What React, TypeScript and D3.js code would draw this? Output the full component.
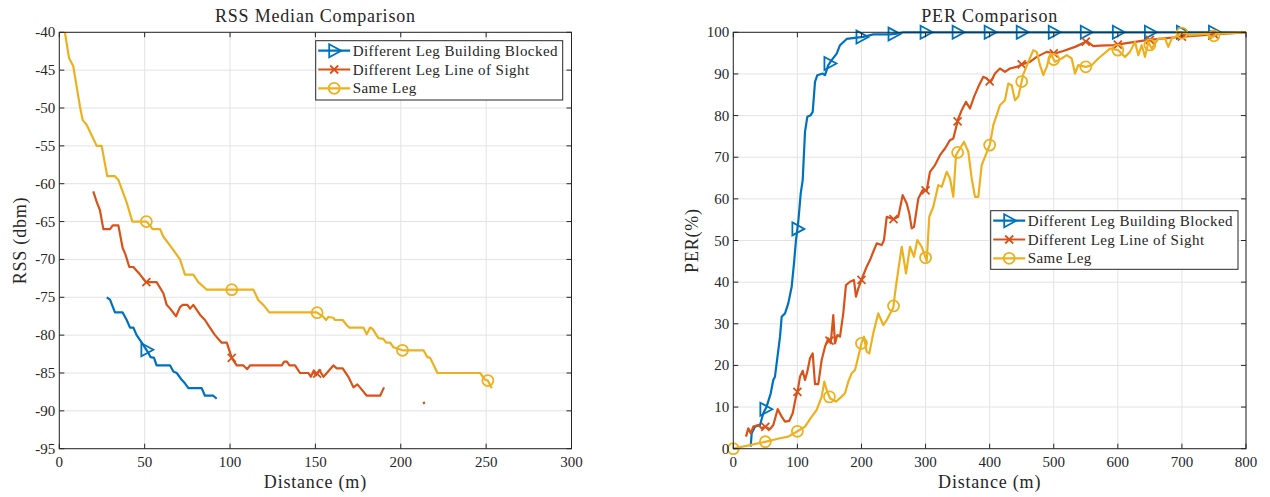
import React from "react";
import * as d3 from "d3";

// MATLAB default colour order
const BLUE = "#0072BD";
const RED = "#D95319";
const YELLOW = "#EDB120";

const seriesNames = [
  "Different Leg Building Blocked",
  "Different Leg Line of Sight",
  "Same Leg",
];

type Pt = [number, number] | null;

// ---- RSS median (left panel): [distance m, rss dbm]
const rssBlocked: Pt[] = [
  [27.8, -75], [29.7, -75.3], [32.6, -77], [37.1, -77], [39.5, -78], [41.4, -79], [43.4, -79],
  [45.3, -80], [48.3, -81], [51.2, -82], [53.5, -82.9], [55.5, -83], [57, -84], [64.9, -84],
  [66.8, -84.8], [68.8, -85], [71.7, -85.9], [73.7, -86.4], [75.6, -87], [83.4, -87], [85.3, -88],
  [90.2, -88], [92.2, -88.4],
];

const rssLos: Pt[] = [
  [19.9, -61], [21.9, -62.4], [23.8, -63.5], [25.8, -66], [29.7, -66], [31.3, -65.5], [34.6, -65.5],
  [37.1, -68.5], [38.5, -69.2], [39.5, -69.9], [41, -71], [43.4, -71], [45.3, -71.5], [47.3, -72],
  [50.8, -73], [57, -73], [61, -74.5], [62.9, -76], [64.9, -76.5], [68.4, -77.5], [70.7, -76.3],
  [72.3, -76], [75, -76], [76.6, -76.5], [78.5, -76], [82.4, -77.3], [85.3, -78], [88.2, -79],
  [91.2, -80], [95.1, -81], [98.1, -81], [101, -83], [103.9, -84], [107.8, -84], [110.1, -84.5],
  [111.7, -84], [130.3, -84], [131.7, -83.5], [133.3, -83.5], [134.8, -84], [138.1, -84], [141, -85],
  [145.9, -85], [147.3, -85.5], [148.8, -84.8], [150.4, -85.3], [152.3, -84.6], [154.7, -85.5],
  [156.7, -85], [160.5, -84], [162.5, -84.4], [166, -84.4], [169.3, -85.5], [172.3, -86.9],
  [174.6, -86.5], [177.2, -87.2], [180.1, -88], [187.9, -88], [190.2, -86.9],
  null,
  [213.3, -88.8], [213.9, -89.1],
];

const rssSame: Pt[] = [
  [3.3, -40], [5.7, -43.4], [8.2, -44.5], [12.1, -49.8], [13.7, -51.6], [16, -52.2], [21.9, -55],
  [24.8, -55], [28.1, -59], [32.6, -59], [34.6, -59.5], [39.5, -62.5], [42.8, -65], [47.3, -65],
  [51.2, -65], [54.7, -66], [59, -66], [61, -67], [66, -68.5], [70.7, -70], [73.6, -72], [78.5, -72],
  [81.4, -73], [86.4, -74], [101.4, -74], [113.7, -74], [116.6, -75.4], [119.5, -76], [123, -77],
  [150.8, -77], [154.7, -77.6], [156.3, -78], [157.6, -77.6], [160.5, -77.7], [161.5, -78],
  [166, -78], [168.4, -78.7], [169.9, -79], [178.1, -79], [180.1, -79.9], [182, -79], [183.6, -79.2],
  [186.9, -80.4], [189.8, -80.5], [191.4, -81], [193.8, -81], [195.7, -81.6], [201, -82],
  [213.3, -82], [215.6, -82.9], [217.2, -83], [221.5, -85], [246.5, -85], [249.4, -85.9],
  [251, -86], [253.3, -87],
];

// ---- PER (right panel): [distance m, per %]
const perBlocked: Pt[] = [
  [27.1, 0.5], [28.7, 3.7], [33.9, 5.3], [41.7, 5.7], [46.8, 8.5], [52, 10.1], [58.4, 13.3],
  [62.4, 16.5], [65, 17.3], [72.9, 26.9], [75.5, 31.7], [80.7, 32.5], [85.8, 34.9], [91.1, 38.9],
  [94.7, 44.5], [97.8, 50.1], [101.4, 54.5], [105.2, 61.3], [108.3, 64.5], [111.9, 76.1],
  [115.5, 79.7], [120.8, 80.1], [123.9, 80.9], [127.5, 88.1], [131.1, 89.7], [139.5, 90.1],
  [143.1, 89.7], [148.2, 92.1], [153.5, 93.3], [161.3, 94.9], [166.5, 96.9], [176.9, 98.4],
  [192.5, 98.7], [202.8, 98.9], [218.4, 99.5], [244.5, 99.5], [252.3, 99.6], [265.3, 100],
  [800, 100],
];

const perLos: Pt[] = [
  [19.8, 2.9], [23.4, 4.9], [27.1, 3.7], [31.2, 5.3], [39, 5.7], [44.3, 4.9], [49.5, 5.3],
  [57.3, 4.7], [62.4, 5.7], [69.3, 9.5], [75.5, 7.7], [80.7, 6.5], [87.4, 6.7], [92.7, 8.5],
  [97.8, 12.5], [100.5, 13.9], [104.1, 17.3], [108.3, 18.7], [111.9, 16.5], [115.5, 18.5],
  [119.7, 21.7], [123.9, 22.9], [127.5, 15.5], [132.6, 15.5], [137.9, 21.3], [143.1, 24.5],
  [148.2, 26.5], [152, 25.3], [156, 32.1], [158.7, 25.3], [162.3, 27.3], [166.5, 26.9],
  [171.6, 32.5], [175.8, 39.3], [182.1, 40.1], [188.3, 40.5], [191.4, 36.5], [195.1, 38.5],
  [201.9, 41.3], [208.1, 43.7], [213.3, 45.3], [218.4, 47.3], [223.8, 49.3], [231.6, 48.9],
  [235.1, 50.1], [239.4, 55.7], [249.7, 55.1], [257.4, 55.7], [264.3, 60.9], [270.6, 58.9],
  [274.6, 56.5], [278.4, 52.9], [282, 53.3], [288.7, 60.1], [295.5, 62.1], [301.8, 62],
  [306.9, 66.5], [314.7, 68.1], [322.5, 70.5], [330.3, 72.1], [338.1, 74.1], [343.3, 74.5],
  [351.1, 79.3], [356.4, 81.3], [363.1, 83.3], [369.3, 81.7], [375.6, 84.5], [382.3, 86.9],
  [390.1, 89.3], [395.4, 88.9], [401.6, 88], [408.3, 90.1], [416.1, 91.3], [423.9, 90.5],
  [431.7, 91.3], [442.2, 91.7], [450, 92.3], [462.9, 92.9], [473.4, 94.1], [489, 95.3],
  [501.9, 94.9], [514.9, 95.5], [533.2, 96.5], [546.1, 97.4], [551.4, 97.9], [561.7, 96.7],
  [572.2, 96.8], [593, 96.9], [645, 98.1], [697, 98.9], [749, 99.5], [800, 100],
];

const perSame: Pt[] = [
  [0, 0], [51, 1.7], [72.9, 2.5], [85.8, 2.9], [101.4, 4.3], [111.9, 5.3], [122.3, 7.7],
  [130.1, 9.3], [137.9, 12.5], [142, 16.1], [145.7, 14.1], [150.9, 12.1], [160.2, 11.3],
  [169.1, 12.5], [174.3, 13.3], [179.4, 16.1], [184.7, 18.1], [189.9, 18.9], [195, 22.1],
  [200.3, 25.5], [203.9, 26.9], [208.1, 23.3], [212.2, 22.9], [218.4, 27.7], [226.2, 32.5],
  [234, 29.7], [239.4, 30.9], [249.7, 33.9], [252.3, 37.3], [257.4, 42.9], [262.8, 48.5],
  [269.5, 42.1], [275.7, 48.5], [282, 46.1], [287.1, 50.1], [294, 48.5], [301.8, 45.1],
  [305.8, 55.7], [312.1, 58.1], [319.9, 63.3], [325.2, 62.9], [333, 66.5], [338.1, 64.9],
  [343.3, 60.5], [347.5, 70.5], [353.7, 72.1], [360, 73.7], [366.7, 71.3], [372, 64.9],
  [377.1, 60.5], [382.3, 60.5], [387.6, 68.1], [392.7, 70.1], [400.5, 73.1], [405.7, 77.7],
  [411, 80.1], [416.1, 82.5], [423.9, 83.7], [429.1, 87.7], [434.4, 87.3], [439.5, 83.7],
  [444.7, 84.5], [452.5, 89.9], [460.3, 92.9], [468.1, 95.7], [473.4, 95.3], [478.6, 92.1],
  [483.7, 89.7], [489, 91.7], [495.2, 94.9], [501.9, 92.9], [512.4, 93.7], [520.2, 94.5],
  [528, 93.7], [533.2, 90.1], [538.3, 92.1], [549.8, 91.7], [559.2, 92.1], [569.5, 93.7],
  [587.8, 96.1], [600.7, 95.7], [611.2, 94.1], [619, 95.3], [626.8, 97.7], [632, 94.5],
  [637.3, 96.9], [642.4, 94.1], [647.6, 97.7], [652.8, 96.1], [663.1, 98.5], [673.6, 98.5],
  [678.8, 96.5], [684, 98.5], [694.3, 99.3], [702.1, 100], [712.6, 99.3], [738.6, 99.7],
  [746.4, 98.7], [754.3, 99.7], [800, 100],
];

const rssTicksX = [0, 50, 100, 150, 200, 250, 300];
const rssTicksY = [-95, -90, -85, -80, -75, -70, -65, -60, -55, -50, -45, -40];
const perTicksX = [0, 100, 200, 300, 400, 500, 600, 700, 800];
const perTicksY = [0, 10, 20, 30, 40, 50, 60, 70, 80, 90, 100];
const rssMarkerDist = [51, 101, 151, 201, 251];
const perMarkerDist = [0, 50, 100, 150, 200, 250, 300, 350, 400, 450, 500, 550, 600, 650, 700, 750];

const FONT = "'Liberation Serif', 'Times New Roman', serif";
const INK = "#262626";
const GRID = "#e3e3e3";

type Shape = "tri" | "x" | "o";

function Marker({ x, y, shape, color }: { x: number; y: number; shape: Shape; color: string }) {
  if (shape === "tri")
    return (
      <path
        d={`M${x - 5},${y - 6.5}L${x + 7},${y}L${x - 5},${y + 6.5}Z`}
        fill="none" stroke={color} strokeWidth={1.8} strokeLinejoin="miter"
      />
    );
  if (shape === "x")
    return (
      <path
        d={`M${x - 4},${y - 4}L${x + 4},${y + 4}M${x - 4},${y + 4}L${x + 4},${y - 4}`}
        stroke={color} strokeWidth={1.8}
      />
    );
  return <circle cx={x} cy={y} r={5.5} fill="none" stroke={color} strokeWidth={1.8} />;
}

// value of the polyline at x, only inside drawn segments (gaps stay empty)
function interp(data: Pt[], x: number): number | null {
  for (let i = 1; i < data.length; i++) {
    const a = data[i - 1];
    const b = data[i];
    if (!a || !b) continue;
    if (x >= a[0] && x <= b[0]) return b[0] === a[0] ? a[1] : a[1] + ((x - a[0]) / (b[0] - a[0])) * (b[1] - a[1]);
  }
  return null;
}

interface Series {
  data: Pt[];
  color: string;
  shape: Shape;
}

interface PanelProps {
  left: number;
  right: number;
  top: number;
  bottom: number;
  xDomain: [number, number];
  yDomain: [number, number];
  xTicks: number[];
  yTicks: number[];
  markerDist: number[];
  series: Series[];
  title: string;
  xLabel: string;
  yLabel: string;
  yLabelX: number;
  legend: { x: number; y: number; w: number; h: number };
}

function Panel(p: PanelProps) {
  const x = d3.scaleLinear().domain(p.xDomain).range([p.left, p.right]);
  const y = d3.scaleLinear().domain(p.yDomain).range([p.bottom, p.top]);
  const line = d3
    .line<Pt>()
    .defined((d) => d !== null)
    .x((d) => x((d as [number, number])[0]))
    .y((d) => y((d as [number, number])[1]));
  const cx = (p.left + p.right) / 2;
  const cy = (p.top + p.bottom) / 2;
  const tl = 5;

  return (
    <g fontFamily={FONT} fill={INK}>
      {/* grid */}
      {p.xTicks.map((t) => (
        <line key={"gx" + t} x1={x(t)} x2={x(t)} y1={p.top} y2={p.bottom} stroke={GRID} strokeWidth={1} />
      ))}
      {p.yTicks.map((t) => (
        <line key={"gy" + t} x1={p.left} x2={p.right} y1={y(t)} y2={y(t)} stroke={GRID} strokeWidth={1} />
      ))}

      {/* series */}
      {p.series.map((s, i) => (
        <g key={"s" + i}>
          <path d={line(s.data) || ""} fill="none" stroke={s.color} strokeWidth={2.2} strokeLinejoin="round" />
          {p.markerDist.map((md) => {
            const v = interp(s.data, md);
            return v === null ? null : <Marker key={md} x={x(md)} y={y(v)} shape={s.shape} color={s.color} />;
          })}
        </g>
      ))}

      {/* box + ticks */}
      <rect x={p.left} y={p.top} width={p.right - p.left} height={p.bottom - p.top} fill="none" stroke={INK} strokeWidth={1} />
      {p.xTicks.map((t) => (
        <g key={"tx" + t}>
          <line x1={x(t)} x2={x(t)} y1={p.bottom} y2={p.bottom - tl} stroke={INK} />
          <line x1={x(t)} x2={x(t)} y1={p.top} y2={p.top + tl} stroke={INK} />
          <text x={x(t)} y={p.bottom + 18} textAnchor="middle" fontSize={15}>
            {t}
          </text>
        </g>
      ))}
      {p.yTicks.map((t) => (
        <g key={"ty" + t}>
          <line x1={p.left} x2={p.left + tl} y1={y(t)} y2={y(t)} stroke={INK} />
          <line x1={p.right} x2={p.right - tl} y1={y(t)} y2={y(t)} stroke={INK} />
          <text x={p.left - 4} y={y(t) + 5} textAnchor="end" fontSize={15}>
            {t}
          </text>
        </g>
      ))}

      {/* labels */}
      <text x={cx} y={22} textAnchor="middle" fontSize={18} letterSpacing={0.8}>
        {p.title}
      </text>
      <text x={cx} y={488} textAnchor="middle" fontSize={18} letterSpacing={0.8}>
        {p.xLabel}
      </text>
      <text
        transform={`translate(${p.yLabelX},${cy}) rotate(-90)`}
        textAnchor="middle"
        fontSize={18}
        letterSpacing={0.8}
      >
        {p.yLabel}
      </text>

      {/* legend */}
      <g>
        <rect x={p.legend.x} y={p.legend.y} width={p.legend.w} height={p.legend.h} fill="#fff" stroke={INK} strokeWidth={1} />
        {p.series.map((s, i) => {
          const ry = p.legend.y + 10 + i * 18.8;
          const lx0 = p.legend.x + 2.5;
          const lx1 = p.legend.x + 34.5;
          return (
            <g key={"lg" + i}>
              <line x1={lx0} x2={lx1} y1={ry} y2={ry} stroke={s.color} strokeWidth={2.2} />
              <Marker x={(lx0 + lx1) / 2} y={ry} shape={s.shape} color={s.color} />
              <text x={p.legend.x + 37} y={ry + 5} fontSize={15} letterSpacing={0.45}>
                {seriesNames[i]}
              </text>
            </g>
          );
        })}
      </g>
    </g>
  );
}

export default function App() {
  return (
    <svg
      width={1270}
      height={497}
      style={{ position: "absolute", left: 0, top: 0, background: "#fff" }}
    >
      <Panel
        left={59.3}
        right={571.5}
        top={32.3}
        bottom={448.7}
        xDomain={[0, 300]}
        yDomain={[-95, -40]}
        xTicks={rssTicksX}
        yTicks={rssTicksY}
        markerDist={rssMarkerDist}
        series={[
          { data: rssBlocked, color: BLUE, shape: "tri" },
          { data: rssLos, color: RED, shape: "x" },
          { data: rssSame, color: YELLOW, shape: "o" },
        ]}
        title="RSS Median Comparison"
        xLabel="Distance (m)"
        yLabel="RSS (dbm)"
        yLabelX={26}
        legend={{ x: 315.7, y: 40.7, w: 247, h: 59.3 }}
      />
      <Panel
        left={733.3}
        right={1246}
        top={32.3}
        bottom={448.7}
        xDomain={[0, 800]}
        yDomain={[0, 100]}
        xTicks={perTicksX}
        yTicks={perTicksY}
        markerDist={perMarkerDist}
        series={[
          { data: perBlocked, color: BLUE, shape: "tri" },
          { data: perLos, color: RED, shape: "x" },
          { data: perSame, color: YELLOW, shape: "o" },
        ]}
        title="PER Comparison"
        xLabel="Distance (m)"
        yLabel="PER(%)"
        yLabelX={698}
        legend={{ x: 990.7, y: 210.7, w: 247.3, h: 58.6 }}
      />
    </svg>
  );
}
